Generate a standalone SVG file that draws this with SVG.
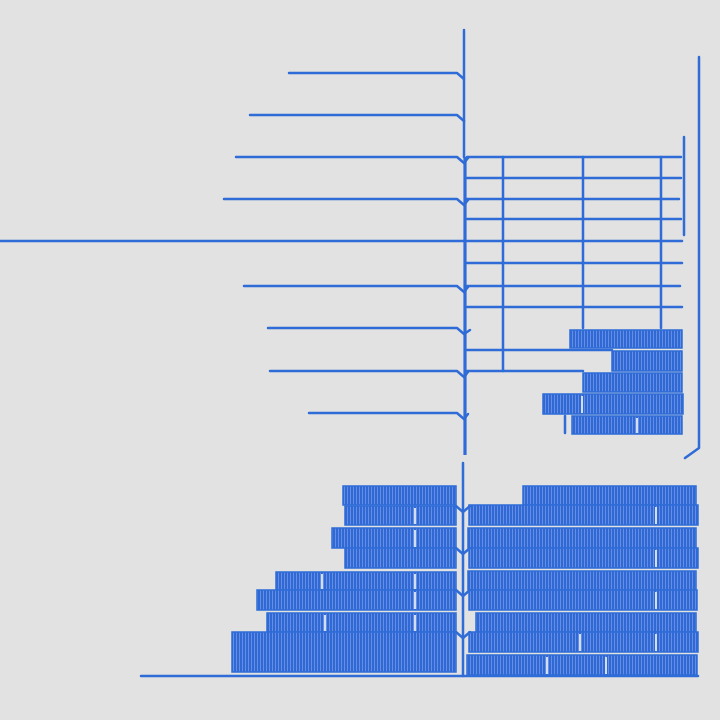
<svg xmlns="http://www.w3.org/2000/svg" width="720" height="720" viewBox="0 0 720 720">
<style>
.l{stroke:#2f6cd7;stroke-width:2.5;fill:none;stroke-linecap:round;stroke-linejoin:round}
.t{stroke:#2f6cd7;stroke-width:3.2;fill:none}
.h{fill:url(#hatch);stroke:#2f6cd7;stroke-width:1.5}
.gap{stroke:#d3def2;stroke-width:2}
</style>
<defs>
<pattern id="hatch" patternUnits="userSpaceOnUse" width="3" height="20">
<rect width="3" height="20" fill="#6f98e4"/>
<rect width="2.2" height="20" fill="#3068d6"/>
</pattern>
</defs>
<rect width="720" height="720" fill="#e2e2e2"/>
<g id="connectors">
<line class="l" x1="464" y1="30" x2="464" y2="157"/>
<line class="t" x1="465" y1="157" x2="465" y2="455"/>
<line class="l" x1="463" y1="463" x2="463" y2="676"/>
<path class="l" d="M289 73H457L464 79"/>
<path class="l" d="M250 115H457L464 121"/>
<path class="l" d="M236 157H457L464 163L468 158"/>
<path class="l" d="M224 199H457L464 205L468 200"/>
<path class="l" d="M0 241H464"/>
<path class="l" d="M244 286H457L464 292L468 287"/>
<path class="l" d="M268 328H457L464 334L470 330"/>
<path class="l" d="M270 371H457L464 377L468 372"/>
<path class="l" d="M309 413H457L464 419L468 414"/>
<line class="l" x1="141" y1="676" x2="698" y2="676"/>
<path class="l" d="M699 57V448L685 458"/>
<line class="l" x1="684" y1="137" x2="684" y2="235"/>
</g>
<g id="grid">
<path class="l" d="M467 157H681M467 178H681M467 199H679M467 219H681M467 241H682M467 263H682M467 286H680M467 307H682M467 350H612M467 371H583"/>
<path class="l" d="M503 157V371M583 157V328M661 157V328"/>
</g>
<g id="upper-blocks">
<rect class="h" x="570" y="330" width="112" height="18"/>
<rect class="h" x="612" y="351" width="70" height="20"/>
<rect class="h" x="583" y="373" width="99" height="19"/>
<rect class="h" x="543" y="394" width="140" height="20"/>
<rect class="h" x="572" y="416" width="110" height="18"/>
<line class="l" x1="565" y1="416" x2="565" y2="433"/>
<line class="gap" x1="637" y1="418" x2="637" y2="433"/>
<line class="gap" x1="582" y1="396" x2="582" y2="413"/>
</g>
<g id="lower-left-blocks">
<rect class="h" x="343" y="486" width="113" height="19"/>
<rect class="h" x="345" y="506" width="111" height="19"/>
<rect class="h" x="332" y="528" width="124" height="20"/>
<rect class="h" x="345" y="548" width="111" height="20"/>
<rect class="h" x="276" y="572" width="180" height="18"/>
<rect class="h" x="257" y="590" width="199" height="20"/>
<rect class="h" x="267" y="613" width="189" height="19"/>
<rect class="h" x="232" y="632" width="224" height="40"/>
<path class="gap" d="M415 508V524M415 530V547M322 574V589M415 574V589M415 592V609M325 615V631M415 615V631"/>
</g>
<g id="lower-right-blocks">
<rect class="h" x="523" y="486" width="173" height="19"/>
<rect class="h" x="469" y="505" width="229" height="20"/>
<rect class="h" x="468" y="528" width="228" height="20"/>
<rect class="h" x="469" y="548" width="229" height="20"/>
<rect class="h" x="468" y="571" width="228" height="19"/>
<rect class="h" x="469" y="590" width="228" height="20"/>
<rect class="h" x="476" y="613" width="220" height="19"/>
<rect class="h" x="469" y="632" width="229" height="20"/>
<rect class="h" x="467" y="655" width="230" height="20"/>
<path class="gap" d="M656 507V524M656 550V567M656 592V609M580 634V651M656 634V651M547 657V674M606 657V674"/>
</g>
<g id="spine-joints">
<path class="l" d="M456 506L463 512L470 506M456 548L463 554L470 548M456 590L463 596L470 590M456 632L463 638L470 632"/>
</g>
</svg>
